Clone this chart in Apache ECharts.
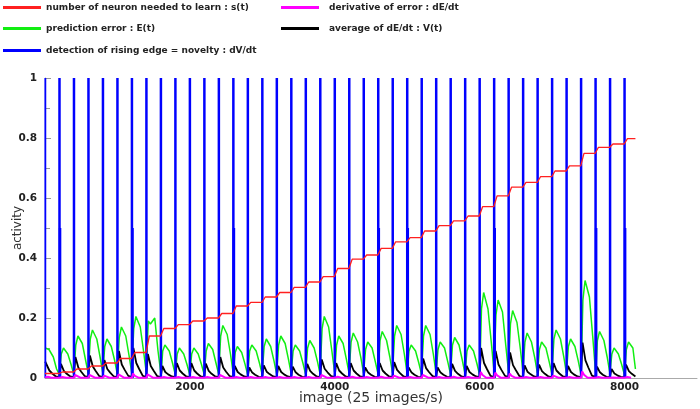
<!DOCTYPE html>
<html>
<head>
<meta charset="utf-8">
<script src="https://cdn.jsdelivr.net/npm/echarts@6/dist/echarts.min.js"></script>
<style>
  html, body { margin: 0; padding: 0; background: #fff; }
  #main { width: 700px; height: 409px; }
</style>
</head>
<body>
<div id="main"></div>
<script>
// series names
var nameS = 'number of neuron needed to learn : s(t)';
var nameE = 'prediction error : E(t)';
var nameV = 'detection of rising edge = novelty : dV/dt';
var nameD = 'derivative of error : dE/dt';
var nameA = 'average of dE/dt : V(t)';

// x ticks (image index)
var xTicks = [0, 2000, 4000, 6000, 8000];
var yTicks = [0, 0.2, 0.4, 0.6, 0.8, 1];
var dataEnd = 8150;

// novelty spikes dV/dt (one every learning cycle)
var spikeX = [0, 200, 400, 600, 800, 1000, 1200, 1400, 1600, 1800, 2000,
  2200, 2400, 2600, 2800, 3000, 3200, 3400, 3600, 3800, 4000,
  4200, 4400, 4600, 4800, 5000, 5200, 5400, 5600, 5800, 6000,
  6200, 6400, 6600, 6800, 7000, 7200, 7400, 7600, 7800, 8000];
var spikeLevel = 1;
var halfSpikeX = [208, 1208, 2608, 4608, 5008, 6208, 7608, 8008];
var halfSpikeLevel = 0.5;

// s(t): level reached in each cycle
var redLevel = [0.015, 0.02, 0.03, 0.04, 0.05, 0.065, 0.085, 0.14, 0.165, 0.178, 0.19,
  0.2, 0.215, 0.24, 0.252, 0.27, 0.285, 0.302, 0.32, 0.338, 0.365,
  0.396, 0.41, 0.432, 0.454, 0.468, 0.49, 0.508, 0.524, 0.54, 0.571,
  0.607, 0.636, 0.652, 0.671, 0.69, 0.707, 0.749, 0.769, 0.78, 0.798];
var redOff = [40, 195];

// E(t): samples in each cycle at these offsets
var greenOff = [2, 25, 55, 115, 160, 197];
var greenVals = [
  [0.1, 0.1, 0.095, 0.07, 0.03, 0.012],
  [0.012, 0.08, 0.10, 0.08, 0.045, 0.012],
  [0.015, 0.11, 0.14, 0.115, 0.06, 0.015],
  [0.015, 0.13, 0.16, 0.13, 0.07, 0.018],
  [0.014, 0.105, 0.13, 0.105, 0.06, 0.015],
  [0.016, 0.135, 0.17, 0.14, 0.075, 0.018],
  [0.02, 0.165, 0.205, 0.17, 0.09, 0.02],
  [0.02, 0.19, 0.18, 0.20, 0.09, 0.02],
  [0.013, 0.09, 0.11, 0.09, 0.05, 0.013],
  [0.012, 0.08, 0.10, 0.08, 0.045, 0.012],
  [0.012, 0.08, 0.10, 0.08, 0.045, 0.012],
  [0.013, 0.09, 0.115, 0.095, 0.05, 0.013],
  [0.018, 0.14, 0.175, 0.145, 0.08, 0.018],
  [0.012, 0.085, 0.105, 0.085, 0.047, 0.012],
  [0.013, 0.09, 0.11, 0.09, 0.05, 0.013],
  [0.014, 0.105, 0.13, 0.105, 0.058, 0.015],
  [0.015, 0.11, 0.14, 0.115, 0.063, 0.016],
  [0.013, 0.09, 0.11, 0.09, 0.05, 0.013],
  [0.014, 0.1, 0.125, 0.1, 0.056, 0.014],
  [0.02, 0.165, 0.205, 0.17, 0.09, 0.02],
  [0.015, 0.11, 0.14, 0.115, 0.063, 0.016],
  [0.016, 0.12, 0.15, 0.12, 0.068, 0.016],
  [0.013, 0.095, 0.12, 0.1, 0.054, 0.014],
  [0.016, 0.125, 0.155, 0.125, 0.07, 0.017],
  [0.018, 0.14, 0.175, 0.145, 0.08, 0.018],
  [0.013, 0.09, 0.11, 0.09, 0.05, 0.013],
  [0.018, 0.14, 0.175, 0.145, 0.08, 0.018],
  [0.013, 0.095, 0.12, 0.1, 0.054, 0.014],
  [0.014, 0.11, 0.135, 0.11, 0.06, 0.015],
  [0.013, 0.09, 0.11, 0.09, 0.05, 0.013],
  [0.025, 0.23, 0.285, 0.23, 0.12, 0.025],
  [0.024, 0.21, 0.26, 0.22, 0.11, 0.024],
  [0.022, 0.18, 0.225, 0.185, 0.1, 0.022],
  [0.016, 0.12, 0.15, 0.12, 0.068, 0.016],
  [0.013, 0.095, 0.12, 0.1, 0.054, 0.014],
  [0.016, 0.13, 0.16, 0.13, 0.072, 0.017],
  [0.014, 0.105, 0.13, 0.105, 0.058, 0.015],
  [0.028, 0.26, 0.325, 0.27, 0.14, 0.028],
  [0.016, 0.125, 0.155, 0.125, 0.07, 0.017],
  [0.012, 0.08, 0.10, 0.08, 0.045, 0.012],
  [0.013, 0.095, 0.12, 0.1, 0.03]
];

// V(t): samples in each cycle
var blackOff = [2, 20, 60, 100, 150, 197];
var blackVals = [
  [0.055, 0.05, 0.025, 0.015, 0.005, 0.003],
  [0.003, 0.047, 0.024, 0.014, 0.005, 0.003],
  [0.003, 0.07, 0.035, 0.021, 0.006, 0.003],
  [0.003, 0.075, 0.038, 0.023, 0.006, 0.003],
  [0.003, 0.06, 0.03, 0.018, 0.005, 0.003],
  [0.003, 0.09, 0.045, 0.027, 0.007, 0.003],
  [0.003, 0.10, 0.05, 0.03, 0.007, 0.003],
  [0.003, 0.08, 0.04, 0.024, 0.006, 0.003],
  [0.003, 0.04, 0.02, 0.012, 0.005, 0.003],
  [0.003, 0.05, 0.025, 0.015, 0.005, 0.003],
  [0.003, 0.05, 0.025, 0.015, 0.005, 0.003],
  [0.003, 0.048, 0.024, 0.014, 0.005, 0.003],
  [0.003, 0.07, 0.035, 0.021, 0.006, 0.003],
  [0.003, 0.04, 0.02, 0.012, 0.005, 0.003],
  [0.003, 0.035, 0.018, 0.011, 0.004, 0.003],
  [0.003, 0.042, 0.021, 0.013, 0.005, 0.003],
  [0.003, 0.04, 0.02, 0.012, 0.005, 0.003],
  [0.003, 0.038, 0.019, 0.011, 0.004, 0.003],
  [0.003, 0.047, 0.024, 0.014, 0.005, 0.003],
  [0.003, 0.062, 0.031, 0.019, 0.006, 0.003],
  [0.003, 0.05, 0.025, 0.015, 0.005, 0.003],
  [0.003, 0.05, 0.025, 0.015, 0.005, 0.003],
  [0.003, 0.035, 0.018, 0.011, 0.004, 0.003],
  [0.003, 0.05, 0.025, 0.015, 0.005, 0.003],
  [0.003, 0.053, 0.027, 0.016, 0.005, 0.003],
  [0.003, 0.035, 0.018, 0.011, 0.004, 0.003],
  [0.003, 0.065, 0.033, 0.02, 0.006, 0.003],
  [0.003, 0.035, 0.018, 0.011, 0.004, 0.003],
  [0.003, 0.047, 0.024, 0.014, 0.005, 0.003],
  [0.003, 0.04, 0.02, 0.012, 0.005, 0.003],
  [0.003, 0.10, 0.05, 0.03, 0.007, 0.003],
  [0.003, 0.09, 0.045, 0.027, 0.007, 0.003],
  [0.003, 0.085, 0.043, 0.026, 0.006, 0.003],
  [0.003, 0.042, 0.021, 0.013, 0.005, 0.003],
  [0.003, 0.045, 0.023, 0.014, 0.005, 0.003],
  [0.003, 0.05, 0.025, 0.015, 0.005, 0.003],
  [0.003, 0.04, 0.02, 0.012, 0.005, 0.003],
  [0.003, 0.118, 0.059, 0.035, 0.008, 0.003],
  [0.003, 0.038, 0.019, 0.011, 0.004, 0.003],
  [0.003, 0.03, 0.015, 0.009, 0.004, 0.003],
  [0.003, 0.045, 0.023, 0.014, 0.005]
];

// dE/dt: small positive bumps after each spike
var magOff = [2, 15, 40, 90];
var magVals = [
  [0.002, 0.008, 0.004, 0.001], [0.001, 0.006, 0.003, 0.001], [0.001, 0.01, 0.005, 0.001],
  [0.001, 0.01, 0.005, 0.001], [0.001, 0.008, 0.004, 0.001], [0.001, 0.012, 0.006, 0.001],
  [0.001, 0.015, 0.007, 0.001], [0.001, 0.012, 0.006, 0.001], [0.001, 0.006, 0.003, 0.001],
  [0.001, 0.006, 0.003, 0.001], [0.001, 0.006, 0.003, 0.001], [0.001, 0.006, 0.003, 0.001],
  [0.001, 0.01, 0.005, 0.001], [0.001, 0.006, 0.003, 0.001], [0.001, 0.005, 0.003, 0.001],
  [0.001, 0.006, 0.003, 0.001], [0.001, 0.006, 0.003, 0.001], [0.001, 0.005, 0.003, 0.001],
  [0.001, 0.006, 0.003, 0.001], [0.001, 0.01, 0.005, 0.001], [0.001, 0.007, 0.004, 0.001],
  [0.001, 0.007, 0.004, 0.001], [0.001, 0.005, 0.003, 0.001], [0.001, 0.007, 0.004, 0.001],
  [0.001, 0.008, 0.004, 0.001], [0.001, 0.005, 0.003, 0.001], [0.001, 0.01, 0.005, 0.001],
  [0.001, 0.005, 0.003, 0.001], [0.001, 0.007, 0.004, 0.001], [0.001, 0.006, 0.003, 0.001],
  [0.001, 0.02, 0.01, 0.001], [0.001, 0.018, 0.009, 0.001], [0.001, 0.015, 0.007, 0.001],
  [0.001, 0.006, 0.003, 0.001], [0.001, 0.006, 0.003, 0.001], [0.001, 0.008, 0.004, 0.001],
  [0.001, 0.006, 0.003, 0.001], [0.001, 0.022, 0.011, 0.001], [0.001, 0.006, 0.003, 0.001],
  [0.001, 0.004, 0.002, 0.001], [0.001, 0.006, 0.003, 0.001]
];

// build [x, y] pairs for each cycle
function cyclePoints(offsets, vals) {
  var pts = [];
  for (var k = 0; k < vals.length; k++) {
    for (var j = 0; j < vals[k].length; j++) {
      pts.push([Math.min(spikeX[k] + offsets[j], dataEnd), vals[k][j]]);
    }
  }
  return pts;
}

var redData = [[0, redLevel[0]]];
for (var k = 0; k < redLevel.length; k++) {
  redData.push([spikeX[k] + redOff[0], redLevel[k]]);
  redData.push([Math.min(spikeX[k] + redOff[1], dataEnd), redLevel[k]]);
}

var blueData = [];
for (var i = 0; i < spikeX.length; i++) blueData.push([spikeX[i], spikeLevel]);
for (var i = 0; i < halfSpikeX.length; i++) blueData.push([halfSpikeX[i], halfSpikeLevel]);

var myChart = echarts.init(document.getElementById('main'));

var legendBase = {
  icon: 'rect',
  itemWidth: 38,
  itemHeight: 3,
  padding: 0,
  selectedMode: false,
  textStyle: { fontFamily: 'DejaVu Sans', fontWeight: 'bold', fontSize: 9, color: '#222' }
};
function mkLegend(name, left, top, extraGap) {
  var l = Object.assign({}, legendBase, { data: [name], left: left, top: top });
  if (extraGap) {
    l.textStyle = Object.assign({}, legendBase.textStyle, { padding: [0, 0, 0, extraGap] });
  }
  return l;
}

var option = {
  animation: false,
  backgroundColor: '#fff',
  legend: [
    mkLegend(nameS, 3, 3),
    mkLegend(nameD, 281, 3, 5),
    mkLegend(nameE, 3, 24),
    mkLegend(nameA, 281, 24, 5),
    mkLegend(nameV, 3, 46)
  ],
  grid: { left: 45, right: 3, top: 78, bottom: 31, containLabel: false, outerBoundsMode: 'none' },
  xAxis: {
    type: 'value',
    min: 0,
    max: 9000,
    interval: 2000,
    name: 'image (25 images/s)',
    nameLocation: 'middle',
    nameGap: 13,
    nameMoveOverlap: false,
    nameTextStyle: { fontFamily: 'DejaVu Sans', fontSize: 14, color: '#333' },
    axisLine: { lineStyle: { color: '#aaa', width: 1 } },
    axisTick: { show: false },
    splitLine: { show: false },
    axisLabel: {
      showMinLabel: false,
      showMaxLabel: false,
      margin: 4,
      fontFamily: 'DejaVu Sans', fontWeight: 'bold', fontSize: 10.5, color: '#222',
      formatter: function(v) { return xTicks.indexOf(v) >= 0 ? String(v) : ''; }
    }
  },
  yAxis: {
    type: 'value',
    min: 0,
    max: 1,
    interval: 0.2,
    name: 'activity',
    nameLocation: 'middle',
    nameGap: 21,
    nameMoveOverlap: false,
    nameTextStyle: { fontFamily: 'DejaVu Sans', fontSize: 12, color: '#333' },
    axisLine: { show: true, lineStyle: { color: '#aaa', width: 1 } },
    axisTick: { show: true, inside: true, length: 6, lineStyle: { color: '#999' } },
    minorTick: { show: true, splitNumber: 2, length: 5, lineStyle: { color: '#999' } },
    splitLine: { show: false },
    axisLabel: {
      margin: 8,
      fontFamily: 'DejaVu Sans', fontWeight: 'bold', fontSize: 10.5, color: '#222',
      formatter: function(v) { return yTicks.indexOf(v) >= 0 ? String(v) : ''; }
    }
  },
  series: [{
    name: nameE,
    type: 'line',
    showSymbol: false,
    data: cyclePoints(greenOff, greenVals),
    lineStyle: { color: '#11ee11', width: 1.5 },
    itemStyle: { color: '#11ee11' },
    z: 2
  }, {
    name: nameA,
    type: 'line',
    showSymbol: false,
    data: cyclePoints(blackOff, blackVals),
    lineStyle: { color: '#000', width: 1.8 },
    itemStyle: { color: '#000' },
    z: 2
  }, {
    name: nameV,
    type: 'bar',
    barWidth: 2.5,
    data: blueData,
    itemStyle: { color: '#0000ff' },
    z: 3
  }, {
    name: nameD,
    type: 'line',
    showSymbol: false,
    data: cyclePoints(magOff, magVals),
    lineStyle: { color: '#ff00ff', width: 2 },
    itemStyle: { color: '#ff00ff' },
    z: 4
  }, {
    name: nameS,
    type: 'line',
    showSymbol: false,
    data: redData,
    lineStyle: { color: '#ff2020', width: 1.3 },
    itemStyle: { color: '#ff2020' },
    z: 5
  }]
};

myChart.setOption(option);
</script>
</body>
</html>
